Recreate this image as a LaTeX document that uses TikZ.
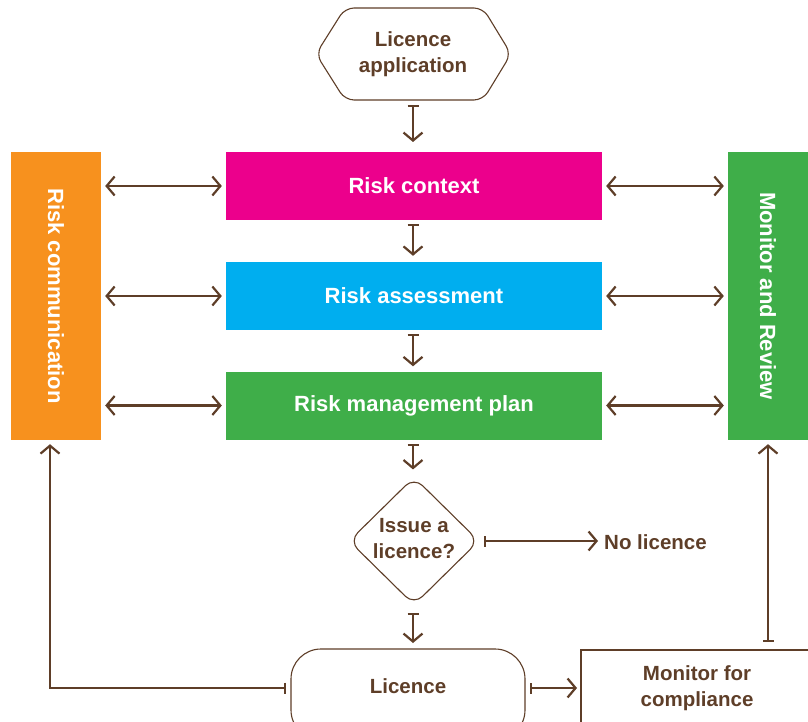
\documentclass[tikz,border=0pt]{standalone}
\usepackage{fontspec}
\setmainfont{Liberation Sans}
\usetikzlibrary{arrows.meta,shapes.geometric}
\definecolor{brn}{RGB}{94,62,40}
\definecolor{orng}{RGB}{247,145,30}
\definecolor{mag}{RGB}{236,0,140}
\definecolor{cyn}{RGB}{0,174,239}
\definecolor{grn}{RGB}{63,174,73}
\tikzset{
  tipb/.tip={Straight Barb[length=8pt,width=19pt,line width=2.2pt]},
  conn/.style={draw=brn, line width=2.2pt, {Bar[width=11pt,line width=2.2pt]}-tipb},
  dconn/.style={draw=brn, line width=2.2pt, tipb-tipb},
  bigbox/.style={draw=none, minimum width=376pt, minimum height=68pt, text=white, font=\bfseries\fontsize{22}{26}\selectfont, inner sep=0pt},
  sidebox/.style={draw=none, inner sep=0pt},
  sidetxt/.style={text=white, font=\bfseries\fontsize{22}{26}\selectfont, rotate=-90},
  btxt/.style={text=brn, font=\bfseries\fontsize{20.5}{26}\selectfont, align=center, inner sep=0pt},
  outline/.style={draw=brn, line width=1.1pt}
}
\begin{document}
\begin{tikzpicture}[x=1pt,y=-1pt]
\useasboundingbox (0,0) rectangle (808,722);
% application
\draw[outline, rounded corners=9pt] (345,8) -- (483,8) -- (511,54) -- (483,100) -- (345,100) -- (316,54) -- cycle;
\node[btxt] (app) at (413,54) {Licence\\application};
% main boxes
\node[bigbox, fill=mag] (ctx) at (414,186) {Risk context};
\node[bigbox, fill=cyn] (ass) at (414,296) {Risk assessment};
\node[bigbox, fill=grn] (rmp) at (414,405.5) {Risk management plan};
% side bars
\node[sidebox, fill=orng, minimum width=90pt, minimum height=288pt] (comm) at (56,296) {};
\node[sidetxt] (commt) at (56,296) {Risk communication};
\node[sidebox, fill=grn, minimum width=80pt, minimum height=288pt] (mon) at (768,296) {};
\node[sidetxt] (mont) at (768,296) {Monitor and Review};
% vertical arrows
\coordinate (a1) at (413,105);
\coordinate (a2) at (413,142);
\draw[conn] (a1) -- (a2);
\draw[conn] ([yshift=-4pt]ctx.south -| a1) -- ([yshift=6pt]ass.north -| a1);
\draw[conn] ([yshift=-4pt]ass.south -| a1) -- ([yshift=5pt]rmp.north -| a1);
% double arrows
\foreach \n in {ctx,ass,rmp}{
  \draw[dconn] (comm.east |- \n.west) ++(4,0) -- ([xshift=-4pt]\n.west);
  \draw[dconn] ([xshift=4pt]\n.east) -- ([xshift=-4pt]mon.west |- \n.east);
}
% decision
\node[diamond, draw=brn, line width=1.1pt, rounded corners=12pt, minimum width=130pt, minimum height=128pt, inner sep=0pt] (dec) at (414,541) {};
\node[btxt] (dect) at (414,539) {Issue a\\licence?};
\draw[conn] ([yshift=-4pt]rmp.south -| a1) -- ([yshift=7pt]dec.north -| a1);
\node[btxt, anchor=west] (nol) at (604,542) {No licence};
\draw[conn] ([xshift=4pt]dec.east) -- ([xshift=-6pt]nol.west |- dec.east);
% licence
\draw[outline, rounded corners=30pt] (291,649) rectangle (525,740);
\node[btxt] (lic) at (408,686) {Licence};
\coordinate (licN) at (413,643);
\coordinate (licW) at (286,688);
\coordinate (licE) at (530,688);
\draw[conn] ([yshift=-7pt]dec.south -| a1) -- (licN);
% monitor for compliance
\draw[outline] (808,650) -- (581,650) -- (581,730);
\node[btxt] (mfc) at (697,688) {Monitor for\\compliance};
\coordinate (mfcW) at (577,688);
\coordinate (mfcN) at (768,642);
\draw[conn] (licE) -- (mfcW);
\draw[conn] (mfcN) -- ([yshift=-4pt]mon.south);
\coordinate (cornerL) at (50,688);
\draw[conn] (licW) -- (cornerL) -- ([yshift=-4pt]comm.south -| cornerL);
\end{tikzpicture}
\end{document}
